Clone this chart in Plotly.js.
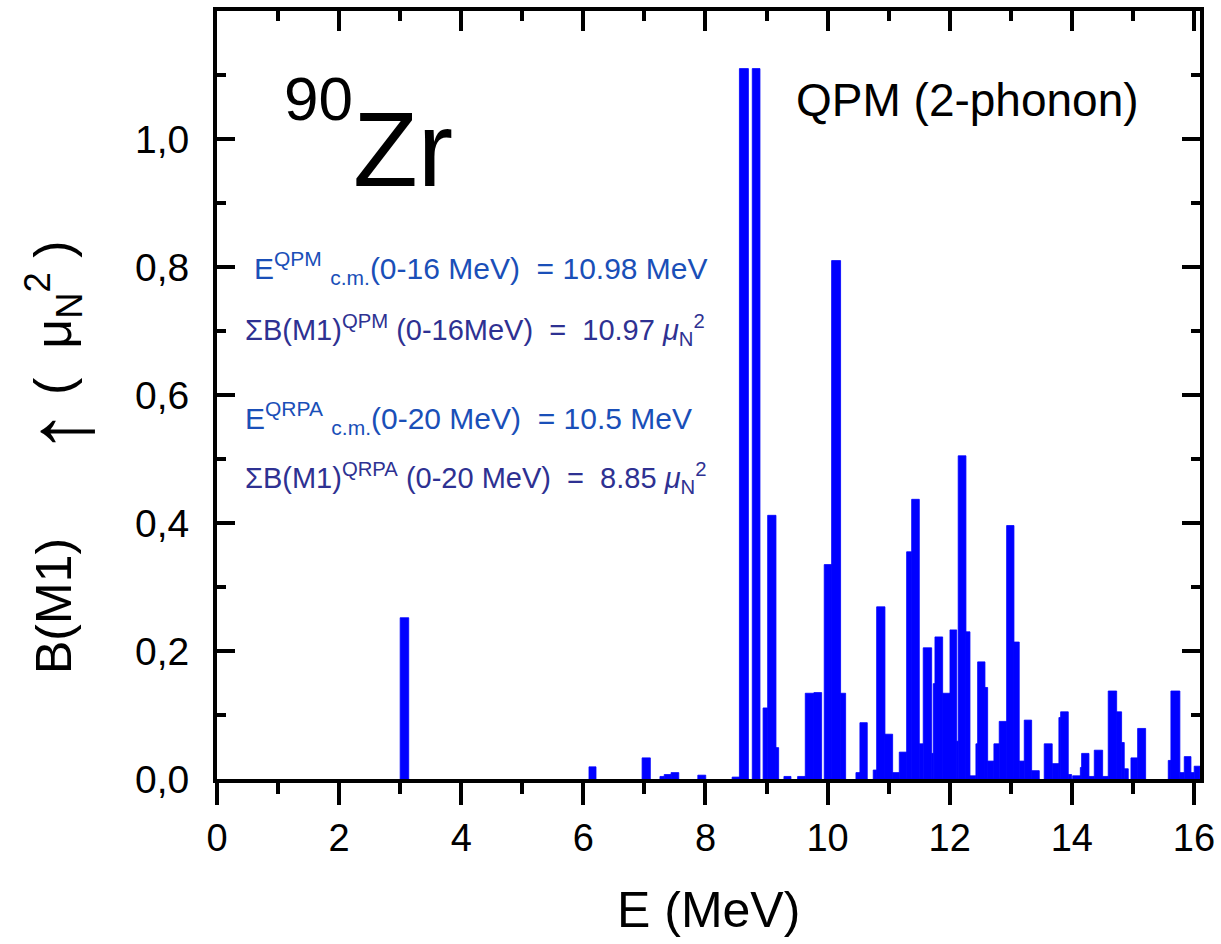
<!DOCTYPE html>
<html>
<head>
<meta charset="utf-8">
<script src="https://cdn.plot.ly/plotly-3.0.1.min.js"></script>
<style>
  html, body { margin: 0; padding: 0; background: #ffffff; }
  #chart { width: 1221px; height: 944px; }
</style>
</head>
<body>
<div id="chart"></div>
<script>
// Energies (MeV, bin centres), bin widths (MeV) and B(M1) strengths (mu_N^2)
const energies = [
  3.07, 6.15, 7.03, 7.29, 7.38, 7.50, 7.94, 8.50, 8.63, 8.83,
  8.98, 9.087, 9.177, 9.343, 9.572, 9.706, 9.84, 10.006, 10.14, 10.255,
  10.498, 10.59, 10.776, 10.872, 11.003, 11.12, 11.235, 11.336, 11.44, 11.534,
  11.636, 11.718, 11.745, 11.822, 11.945, 12.06, 12.127, 12.203, 12.30, 12.38,
  12.444, 12.518, 12.60, 12.673, 12.768, 12.872, 12.993, 13.096, 13.18, 13.282,
  13.405, 13.614, 13.735, 13.803, 13.88, 13.97, 14.08, 14.15, 14.221, 14.325,
  14.437, 14.551, 14.666, 14.775, 14.838, 14.892, 15.024, 15.144, 15.602, 15.697,
  15.806, 15.897, 15.978, 16.052
];
const binWidths = [
  0.14, 0.115, 0.135, 0.07, 0.11, 0.126, 0.13, 0.126, 0.147, 0.126,
  0.072, 0.136, 0.044, 0.115, 0.125, 0.142, 0.126, 0.121, 0.147, 0.082,
  0.066, 0.12, 0.056, 0.136, 0.126, 0.108, 0.121, 0.082, 0.125, 0.065,
  0.138, 0.026, 0.028, 0.126, 0.12, 0.11, 0.026, 0.127, 0.065, 0.098,
  0.028, 0.12, 0.044, 0.103, 0.087, 0.121, 0.12, 0.087, 0.082, 0.121,
  0.125, 0.131, 0.11, 0.028, 0.125, 0.055, 0.131, 0.02, 0.12, 0.087,
  0.137, 0.092, 0.138, 0.082, 0.043, 0.066, 0.11, 0.131, 0.044, 0.147,
  0.071, 0.11, 0.054, 0.094
];
const strengths = [
  0.252, 0.019, 0.033, 0.004, 0.007, 0.010, 0.006, 0.003, 1.11, 1.11,
  0.111, 0.412, 0.049, 0.004, 0.004, 0.134, 0.135, 0.335, 0.81, 0.134,
  0.010, 0.088, 0.014, 0.269, 0.070, 0.010, 0.042, 0.355, 0.437, 0.055,
  0.205, 0.040, 0.149, 0.222, 0.134, 0.233, 0.059, 0.505, 0.230, 0.005,
  0.055, 0.183, 0.143, 0.028, 0.055, 0.090, 0.396, 0.214, 0.028, 0.092,
  0.013, 0.055, 0.024, 0.096, 0.105, 0.007, 0.005, 0.018, 0.040, 0.004,
  0.045, 0.004, 0.1375, 0.105, 0.057, 0.016, 0.033, 0.079, 0.029, 0.1375,
  0.010, 0.035, 0.010, 0.020
];

const xTickVals = [0, 2, 4, 6, 8, 10, 12, 14, 16];
const xTickText = ['0', '2', '4', '6', '8', '10', '12', '14', '16'];
const yTickVals = [0, 0.2, 0.4, 0.6, 0.8, 1.0];
const yTickText = ['0,0', '0,2', '0,4', '0,6', '0,8', '1,0'];

const nucleusMass = '90';
const nucleusSymbol = 'Zr';
const modelLabel = 'QPM (2-phonon)';
const infoLines = [
  'E<sup>QPM</sup> <sub>c.m.</sub>(0-16 MeV)  = 10.98 MeV',
  '\u03A3B(M1)<sup>QPM</sup> (0-16MeV)  =  10.97 <i>\u03BC</i><sub>N</sub><sup>2</sup>',
  'E<sup>QRPA</sup> <sub>c.m.</sub>(0-20 MeV)  = 10.5 MeV',
  '\u03A3B(M1)<sup>QRPA</sup> (0-20 MeV)  =  8.85 <i>\u03BC</i><sub>N</sub><sup>2</sup>'
];
const xTitle = 'E (MeV)';
const yTitleParts = ['B(M1)', '\u2191', '(\u00A0\u00A0\u03BC<sub>N</sub><sup>2</sup>\u00A0)'];

const FONT = 'Arial, "Liberation Sans", sans-serif';
const blue1 = '#1a4fb8';
const blue2 = '#2e3192';

const traces = [{
  type: 'bar',
  x: energies,
  y: strengths,
  width: binWidths,
  marker: { color: '#0000ff', line: { width: 0.8, color: '#0000ff' } },
  hoverinfo: 'x+y'
}, {
  type: 'scatter', x: [0], y: [0], xaxis: 'x2', mode: 'markers',
  marker: { opacity: 0 }, hoverinfo: 'skip', showlegend: false
}];

const lineXs = [0.573, 0.426, 0.426, 0.426];
const lineYs = [0.798, 0.702, 0.564, 0.470];
const lineColors = [blue1, blue2, blue1, blue2];
const lineSizes = [30, 29, 30, 29];

const annotations = infoLines.map((t, i) => ({
  text: t, xref: 'x', yref: 'y', x: lineXs[i], y: lineYs[i],
  xanchor: 'left', yanchor: 'middle', showarrow: false,
  font: { family: FONT, size: lineSizes[i], color: lineColors[i] }
}));

annotations.push({
  text: modelLabel, xref: 'x', yref: 'y', x: 9.45, y: 1.061,
  xanchor: 'left', yanchor: 'middle', showarrow: false,
  font: { family: FONT, size: 46, color: '#000000' }
});
annotations.push({
  text: nucleusMass, xref: 'x', yref: 'y', x: 1.07, y: 1.063,
  xanchor: 'left', yanchor: 'middle', showarrow: false,
  font: { family: FONT, size: 62, color: '#000000' }
});
annotations.push({
  text: nucleusSymbol, xref: 'x', yref: 'y', x: 2.2, y: 0.985,
  xanchor: 'left', yanchor: 'middle', showarrow: false,
  font: { family: FONT, size: 106, color: '#000000' }
});
annotations.push({
  text: xTitle, xref: 'paper', yref: 'paper', x: 0.5, y: -0.171,
  xanchor: 'center', yanchor: 'middle', showarrow: false,
  font: { family: FONT, size: 50, color: '#000000' }
});
// rotated y-axis title, in three pieces to match the original spacing
const yTitlePos = [0.225, 0.452, 0.60];
const yTitleX = [-0.166, -0.160, -0.166];
const yTitleSizes = [50, 92, 52];
yTitleParts.forEach((t, i) => {
  annotations.push({
    text: t, xref: 'paper', yref: 'paper', x: yTitleX[i], y: yTitlePos[i],
    xanchor: 'center', yanchor: 'middle', showarrow: false, textangle: -90,
    font: { family: FONT, size: yTitleSizes[i], color: '#000000' }
  });
});

const layout = {
  width: 1221, height: 944,
  margin: { l: 217, r: 21, t: 11, b: 165 },
  paper_bgcolor: '#ffffff', plot_bgcolor: '#ffffff',
  showlegend: false,
  separators: ',.',
  font: { family: FONT, color: '#000000' },
  xaxis: {
    range: [0, 16.1], showgrid: false, zeroline: false,
    showline: true, linewidth: 4, linecolor: '#000000',
    ticks: 'outside', ticklen: 22, tickwidth: 4, tickcolor: '#000000',
    tickvals: xTickVals, ticktext: xTickText,
    tickfont: { family: FONT, size: 38, color: '#000000' },
    ticklabelstandoff: 0,
    minor: { dtick: 1, tick0: 0, ticks: 'outside', ticklen: 11, tickwidth: 4, tickcolor: '#000000', showgrid: false }
  },
  xaxis2: {
    overlaying: 'x', side: 'top', matches: 'x', range: [0, 16.1],
    showgrid: false, zeroline: false,
    showline: true, linewidth: 4, linecolor: '#000000',
    ticks: 'inside', ticklen: 20, tickwidth: 4, tickcolor: '#000000',
    tickvals: xTickVals, showticklabels: false,
    minor: { dtick: 1, tick0: 0, ticks: 'inside', ticklen: 10, tickwidth: 4, tickcolor: '#000000', showgrid: false }
  },
  yaxis: {
    range: [0, 1.2], showgrid: false, zeroline: false,
    showline: true, linewidth: 4, linecolor: '#000000', mirror: 'ticks',
    ticks: 'inside', ticklen: 18, tickwidth: 4, tickcolor: '#000000',
    tickvals: yTickVals, ticktext: yTickText,
    tickfont: { family: FONT, size: 39, color: '#000000' },
    ticklabelstandoff: 16,
    minor: { dtick: 0.1, tick0: 0, ticks: 'inside', ticklen: 9, tickwidth: 4, tickcolor: '#000000', showgrid: false }
  },
  annotations: annotations
};

Plotly.newPlot('chart', traces, layout, { displayModeBar: false, staticPlot: true });
</script>
</body>
</html>
